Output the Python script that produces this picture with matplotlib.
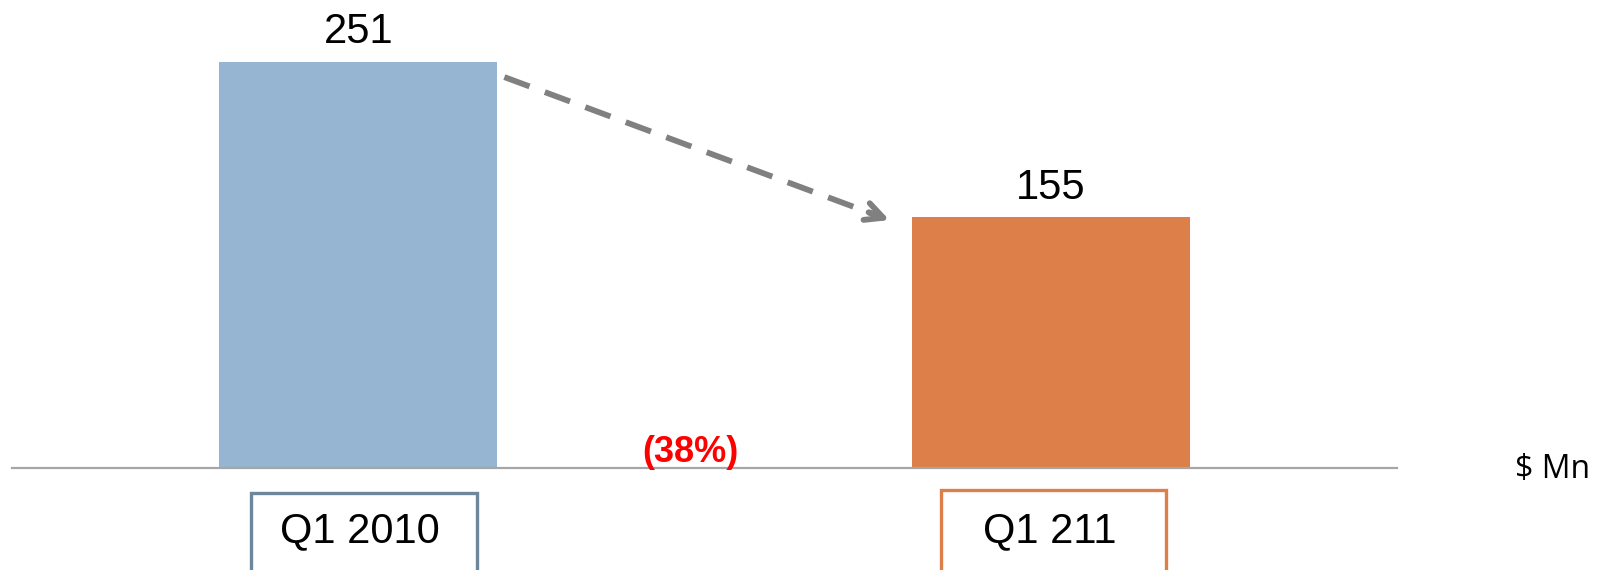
import matplotlib
matplotlib.use("Agg")
import matplotlib.pyplot as plt
from matplotlib.patches import Rectangle

categories = ["Q1 2010", "Q1 211"]
values = [251, 155]
change_label = "(38%)"
unit_label = "$ Mn"
bar_colors = ["#95b5d2", "#dd7f48"]
box_colors = ["#6d879c", "#dd7f48"]

W, H = 1607, 570
fig = plt.figure(figsize=(W / 100, H / 100), dpi=100)
plt.rcParams['font.family'] = ['Liberation Sans', 'DejaVu Sans']

ax_left, ax_right, ax_bottom = 12, 1397, 468
ax = fig.add_axes([ax_left / W, (H - ax_bottom) / H, (ax_right - ax_left) / W, ax_bottom / H])
ax.set_xlim(-0.5, 1.5)
ax.set_ylim(0, 289)

x = list(range(len(categories)))
ax.bar(x, values, width=0.402, color=bar_colors, zorder=2)

for xi, v in zip(x, values):
    ax.annotate(str(v), (xi, v), xytext=(0, 13), textcoords="offset points",
                ha="center", va="baseline", fontsize=30, color="black")

# change label
ax.text(0.48, 3.5, change_label, ha="center", va="baseline", fontsize=26,
        fontweight="bold", color="#ff0000")

# dashed arrow
x0, y0 = 0.211, 241.4
x1, y1 = 0.767, 153.1
gray = "#808080"
ax.plot([x0, x1 - 0.012], [y0, y1 + 1.9], color=gray, lw=4.2,
        linestyle=(0, (4.6, 2.8)), solid_capstyle="butt", zorder=3)
ax.annotate("", xy=(x1, y1), xytext=(x1 - 0.03, y1 + 4.8),
            arrowprops=dict(arrowstyle="->", color=gray, lw=4.2,
                            mutation_scale=32, shrinkA=0, shrinkB=0))

for s in ["left", "right", "top"]:
    ax.spines[s].set_visible(False)
ax.spines["bottom"].set_color("#a6a6a6")
ax.spines["bottom"].set_linewidth(1.6)
ax.set_xticks([])
ax.set_yticks([])

# category boxes below the axis
boxes = [(251, 477, 493, 360), (941, 1166, 490, 1050)]
for (bx0, bx1, by, tx), lab, col in zip(boxes, categories, box_colors):
    rect = Rectangle((bx0 / W, 0 - 0.05), (bx1 - bx0) / W, (H - by) / H + 0.05,
                     transform=fig.transFigure, fill=False, edgecolor=col,
                     lw=2.4, clip_on=False)
    fig.patches.append(rect)
    fig.text(tx / W, (H - 531) / H, lab, ha="center", va="center",
             fontsize=30, color="black")

fig.text(1553 / W, (H - 469) / H, unit_label, ha="center", va="center",
         fontsize=23, color="black", family=["Open Sans", "DejaVu Sans"])

fig.savefig("out.png", dpi=100)
